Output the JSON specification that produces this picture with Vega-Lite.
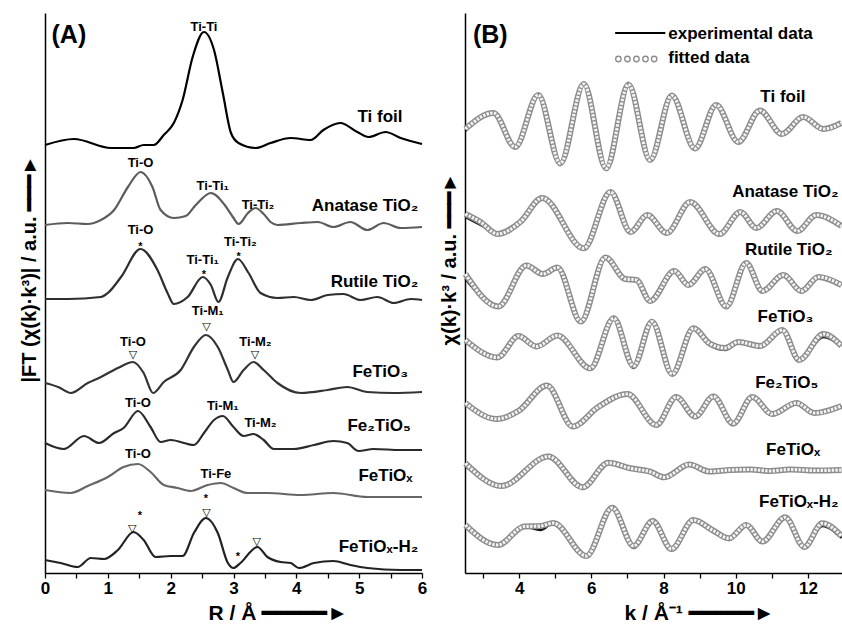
{
"$schema": "https://vega.github.io/schema/vega-lite/v6.json",
"padding": {"left": 19, "top": 13, "right": 0, "bottom": 0},
"background": "white",
"bounds": "flush",
"spacing": 43,
"config": {
  "view": {"stroke": null},
  "text": {"font": "Liberation Sans", "fontWeight": "bold", "color": "black"},
  "axis": {"grid": false, "domainColor": "black", "domainWidth": 1.5, "tickColor": "black", "tickWidth": 1.3, "tickSize": 5,
    "labelFont": "Liberation Sans", "labelFontWeight": "bold", "labelFontSize": 17, "labelColor": "black", "labelPadding": 2, "labelFlush": false,
    "titleFont": "Liberation Sans", "titleFontWeight": "bold", "titleColor": "black"}
},
"datasets": {
"ft": [
{"s":"Ti foil","R":0,"v":428},{"s":"Ti foil","R":0.46,"v":434},{"s":"Ti foil","R":1.05,"v":425},{"s":"Ti foil","R":1.41,"v":425},{"s":"Ti foil","R":1.57,"v":428},{"s":"Ti foil","R":1.73,"v":428},{"s":"Ti foil","R":1.89,"v":438},{"s":"Ti foil","R":2.05,"v":450},{"s":"Ti foil","R":2.19,"v":473},{"s":"Ti foil","R":2.35,"v":516},{"s":"Ti foil","R":2.53,"v":541},{"s":"Ti foil","R":2.69,"v":523},{"s":"Ti foil","R":2.83,"v":480},{"s":"Ti foil","R":2.96,"v":440},{"s":"Ti foil","R":3.08,"v":430},{"s":"Ti foil","R":3.35,"v":425},{"s":"Ti foil","R":3.59,"v":430},{"s":"Ti foil","R":3.91,"v":435},{"s":"Ti foil","R":4.23,"v":433},{"s":"Ti foil","R":4.43,"v":443},{"s":"Ti foil","R":4.7,"v":450},{"s":"Ti foil","R":4.97,"v":441},{"s":"Ti foil","R":5.15,"v":436},{"s":"Ti foil","R":5.42,"v":441},{"s":"Ti foil","R":5.66,"v":435},{"s":"Ti foil","R":6,"v":429},
{"s":"Anatase","R":0,"v":348},{"s":"Anatase","R":0.36,"v":350},{"s":"Anatase","R":0.68,"v":349},{"s":"Anatase","R":0.89,"v":353},{"s":"Anatase","R":1.1,"v":363},{"s":"Anatase","R":1.32,"v":386},{"s":"Anatase","R":1.52,"v":401},{"s":"Anatase","R":1.71,"v":386},{"s":"Anatase","R":1.84,"v":363},{"s":"Anatase","R":2.05,"v":355},{"s":"Anatase","R":2.24,"v":357},{"s":"Anatase","R":2.4,"v":368},{"s":"Anatase","R":2.64,"v":380},{"s":"Anatase","R":2.86,"v":368},{"s":"Anatase","R":2.99,"v":356},{"s":"Anatase","R":3.08,"v":349},{"s":"Anatase","R":3.23,"v":360},{"s":"Anatase","R":3.35,"v":365},{"s":"Anatase","R":3.48,"v":359},{"s":"Anatase","R":3.59,"v":351},{"s":"Anatase","R":3.7,"v":348},{"s":"Anatase","R":4.07,"v":350},{"s":"Anatase","R":4.34,"v":351},{"s":"Anatase","R":4.59,"v":346},{"s":"Anatase","R":4.86,"v":351},{"s":"Anatase","R":5.13,"v":343},{"s":"Anatase","R":5.39,"v":350},{"s":"Anatase","R":5.66,"v":345},{"s":"Anatase","R":6,"v":346},
{"s":"Rutile","R":0,"v":274},{"s":"Rutile","R":0.36,"v":274},{"s":"Rutile","R":0.89,"v":276},{"s":"Rutile","R":1.0,"v":280},{"s":"Rutile","R":1.21,"v":296},{"s":"Rutile","R":1.52,"v":324},{"s":"Rutile","R":1.79,"v":303},{"s":"Rutile","R":1.95,"v":280},{"s":"Rutile","R":2.05,"v":269},{"s":"Rutile","R":2.27,"v":276},{"s":"Rutile","R":2.51,"v":296},{"s":"Rutile","R":2.64,"v":288},{"s":"Rutile","R":2.76,"v":271},{"s":"Rutile","R":2.91,"v":296},{"s":"Rutile","R":3.07,"v":314},{"s":"Rutile","R":3.24,"v":300},{"s":"Rutile","R":3.43,"v":280},{"s":"Rutile","R":3.7,"v":275},{"s":"Rutile","R":3.96,"v":276},{"s":"Rutile","R":4.23,"v":273},{"s":"Rutile","R":4.5,"v":278},{"s":"Rutile","R":4.75,"v":279},{"s":"Rutile","R":5.02,"v":273},{"s":"Rutile","R":5.29,"v":276},{"s":"Rutile","R":5.55,"v":270},{"s":"Rutile","R":5.82,"v":274},{"s":"Rutile","R":6,"v":273},
{"s":"FeTiO3","R":0,"v":190},{"s":"FeTiO3","R":0.21,"v":186},{"s":"FeTiO3","R":0.41,"v":180},{"s":"FeTiO3","R":0.68,"v":190},{"s":"FeTiO3","R":0.89,"v":196},{"s":"FeTiO3","R":1.16,"v":205},{"s":"FeTiO3","R":1.4,"v":211},{"s":"FeTiO3","R":1.57,"v":200},{"s":"FeTiO3","R":1.72,"v":180},{"s":"FeTiO3","R":1.89,"v":191},{"s":"FeTiO3","R":2.16,"v":203},{"s":"FeTiO3","R":2.37,"v":226},{"s":"FeTiO3","R":2.56,"v":238},{"s":"FeTiO3","R":2.75,"v":226},{"s":"FeTiO3","R":2.91,"v":203},{"s":"FeTiO3","R":3.0,"v":191},{"s":"FeTiO3","R":3.16,"v":203},{"s":"FeTiO3","R":3.32,"v":211},{"s":"FeTiO3","R":3.48,"v":203},{"s":"FeTiO3","R":3.7,"v":190},{"s":"FeTiO3","R":4.07,"v":180},{"s":"FeTiO3","R":4.5,"v":183},{"s":"FeTiO3","R":4.81,"v":186},{"s":"FeTiO3","R":5.13,"v":181},{"s":"FeTiO3","R":5.55,"v":180},{"s":"FeTiO3","R":6,"v":181},
{"s":"Fe2TiO5","R":0,"v":130},{"s":"Fe2TiO5","R":0.3,"v":124},{"s":"Fe2TiO5","R":0.62,"v":137},{"s":"Fe2TiO5","R":0.86,"v":130},{"s":"Fe2TiO5","R":1.1,"v":140},{"s":"Fe2TiO5","R":1.25,"v":145},{"s":"Fe2TiO5","R":1.48,"v":162},{"s":"Fe2TiO5","R":1.68,"v":146},{"s":"Fe2TiO5","R":1.84,"v":131},{"s":"Fe2TiO5","R":2.0,"v":133},{"s":"Fe2TiO5","R":2.37,"v":128},{"s":"Fe2TiO5","R":2.53,"v":140},{"s":"Fe2TiO5","R":2.69,"v":153},{"s":"Fe2TiO5","R":2.83,"v":157},{"s":"Fe2TiO5","R":3.0,"v":146},{"s":"Fe2TiO5","R":3.16,"v":137},{"s":"Fe2TiO5","R":3.32,"v":139},{"s":"Fe2TiO5","R":3.48,"v":133},{"s":"Fe2TiO5","R":3.64,"v":124},{"s":"Fe2TiO5","R":3.96,"v":124},{"s":"Fe2TiO5","R":4.28,"v":128},{"s":"Fe2TiO5","R":4.59,"v":132},{"s":"Fe2TiO5","R":4.81,"v":130},{"s":"Fe2TiO5","R":4.99,"v":122},{"s":"Fe2TiO5","R":5.23,"v":124},{"s":"Fe2TiO5","R":5.66,"v":123},{"s":"Fe2TiO5","R":6,"v":123},
{"s":"FeTiOx","R":0,"v":83},{"s":"FeTiOx","R":0.41,"v":80},{"s":"FeTiOx","R":0.68,"v":87},{"s":"FeTiOx","R":1.0,"v":96},{"s":"FeTiOx","R":1.25,"v":106},{"s":"FeTiOx","R":1.48,"v":109},{"s":"FeTiOx","R":1.68,"v":101},{"s":"FeTiOx","R":1.89,"v":88},{"s":"FeTiOx","R":2.11,"v":85},{"s":"FeTiOx","R":2.32,"v":82},{"s":"FeTiOx","R":2.59,"v":88},{"s":"FeTiOx","R":2.8,"v":90},{"s":"FeTiOx","R":3.0,"v":85},{"s":"FeTiOx","R":3.23,"v":80},{"s":"FeTiOx","R":3.54,"v":80},{"s":"FeTiOx","R":4.07,"v":78},{"s":"FeTiOx","R":4.59,"v":80},{"s":"FeTiOx","R":5.13,"v":76},{"s":"FeTiOx","R":6,"v":76},
{"s":"FeTiOx-H2","R":0,"v":13},{"s":"FeTiOx-H2","R":0.25,"v":10},{"s":"FeTiOx-H2","R":0.52,"v":6},{"s":"FeTiOx-H2","R":0.73,"v":15},{"s":"FeTiOx-H2","R":0.94,"v":14},{"s":"FeTiOx-H2","R":1.16,"v":23},{"s":"FeTiOx-H2","R":1.41,"v":41},{"s":"FeTiOx-H2","R":1.57,"v":33},{"s":"FeTiOx-H2","R":1.76,"v":16},{"s":"FeTiOx-H2","R":2.0,"v":17},{"s":"FeTiOx-H2","R":2.19,"v":17},{"s":"FeTiOx-H2","R":2.37,"v":40},{"s":"FeTiOx-H2","R":2.56,"v":55},{"s":"FeTiOx-H2","R":2.75,"v":40},{"s":"FeTiOx-H2","R":2.91,"v":10},{"s":"FeTiOx-H2","R":3.0,"v":5},{"s":"FeTiOx-H2","R":3.11,"v":10},{"s":"FeTiOx-H2","R":3.38,"v":26},{"s":"FeTiOx-H2","R":3.54,"v":16},{"s":"FeTiOx-H2","R":3.75,"v":11},{"s":"FeTiOx-H2","R":3.91,"v":10},{"s":"FeTiOx-H2","R":4.04,"v":5},{"s":"FeTiOx-H2","R":4.28,"v":10},{"s":"FeTiOx-H2","R":4.59,"v":12},{"s":"FeTiOx-H2","R":4.86,"v":8},{"s":"FeTiOx-H2","R":5.13,"v":5},{"s":"FeTiOx-H2","R":5.66,"v":3},{"s":"FeTiOx-H2","R":6,"v":3}
],
"chi": [
{"s":"Ti foil","k":2.51,"fit":444,"exp":442},{"s":"Ti foil","k":3.29,"fit":460,"exp":460},{"s":"Ti foil","k":3.89,"fit":426,"exp":427},{"s":"Ti foil","k":4.53,"fit":478,"exp":478},{"s":"Ti foil","k":5.14,"fit":409.5,"exp":409.5},{"s":"Ti foil","k":5.79,"fit":489,"exp":489},{"s":"Ti foil","k":6.41,"fit":404.7,"exp":404.7},{"s":"Ti foil","k":7.03,"fit":488.5,"exp":488.5},{"s":"Ti foil","k":7.63,"fit":413,"exp":413},{"s":"Ti foil","k":8.23,"fit":477.5,"exp":477.5},{"s":"Ti foil","k":8.87,"fit":424.5,"exp":424.5},{"s":"Ti foil","k":9.46,"fit":468,"exp":468},{"s":"Ti foil","k":10.07,"fit":431,"exp":431},{"s":"Ti foil","k":10.67,"fit":462.5,"exp":461},{"s":"Ti foil","k":11.28,"fit":439,"exp":440},{"s":"Ti foil","k":11.87,"fit":456,"exp":455},{"s":"Ti foil","k":12.43,"fit":444,"exp":445},{"s":"Ti foil","k":12.93,"fit":450,"exp":449},
{"s":"Anatase","k":2.51,"fit":359,"exp":356},{"s":"Anatase","k":2.93,"fit":351,"exp":348},{"s":"Anatase","k":3.4,"fit":339,"exp":340},{"s":"Anatase","k":4.03,"fit":351,"exp":350},{"s":"Anatase","k":4.64,"fit":375,"exp":375},{"s":"Anatase","k":5.79,"fit":324.7,"exp":324.7},{"s":"Anatase","k":6.53,"fit":381,"exp":381},{"s":"Anatase","k":7.09,"fit":341,"exp":341},{"s":"Anatase","k":7.55,"fit":358,"exp":358},{"s":"Anatase","k":8.09,"fit":340,"exp":340},{"s":"Anatase","k":8.74,"fit":371,"exp":371},{"s":"Anatase","k":9.55,"fit":339,"exp":339},{"s":"Anatase","k":10.13,"fit":361,"exp":361},{"s":"Anatase","k":10.57,"fit":345,"exp":345},{"s":"Anatase","k":11.14,"fit":362,"exp":362},{"s":"Anatase","k":11.71,"fit":342,"exp":342},{"s":"Anatase","k":12.23,"fit":358,"exp":358},{"s":"Anatase","k":12.93,"fit":347,"exp":347},
{"s":"Rutile","k":2.51,"fit":299,"exp":294},{"s":"Rutile","k":3.42,"fit":266.5,"exp":267},{"s":"Rutile","k":4.2,"fit":307.5,"exp":307.5},{"s":"Rutile","k":4.66,"fit":299,"exp":299},{"s":"Rutile","k":5.06,"fit":305.5,"exp":305.5},{"s":"Rutile","k":5.71,"fit":251.5,"exp":251.5},{"s":"Rutile","k":6.39,"fit":315.5,"exp":315.5},{"s":"Rutile","k":6.94,"fit":294,"exp":294},{"s":"Rutile","k":7.25,"fit":293,"exp":293},{"s":"Rutile","k":7.63,"fit":272,"exp":272},{"s":"Rutile","k":8.3,"fit":302,"exp":302},{"s":"Rutile","k":8.69,"fit":288,"exp":288},{"s":"Rutile","k":9.16,"fit":304,"exp":304},{"s":"Rutile","k":9.74,"fit":266.5,"exp":266.5},{"s":"Rutile","k":10.29,"fit":310,"exp":310},{"s":"Rutile","k":10.74,"fit":282,"exp":282},{"s":"Rutile","k":11.32,"fit":298,"exp":298},{"s":"Rutile","k":11.82,"fit":282,"exp":282},{"s":"Rutile","k":12.29,"fit":296,"exp":296},{"s":"Rutile","k":12.93,"fit":288,"exp":288},
{"s":"FeTiO3","k":2.51,"fit":233,"exp":231},{"s":"FeTiO3","k":3.4,"fit":215.5,"exp":216},{"s":"FeTiO3","k":3.98,"fit":237,"exp":236},{"s":"FeTiO3","k":4.48,"fit":226.5,"exp":226.5},{"s":"FeTiO3","k":5.06,"fit":237.5,"exp":237.5},{"s":"FeTiO3","k":5.97,"fit":204.7,"exp":204.7},{"s":"FeTiO3","k":6.62,"fit":254.7,"exp":254.7},{"s":"FeTiO3","k":7.17,"fit":207,"exp":205},{"s":"FeTiO3","k":7.68,"fit":251.3,"exp":251.3},{"s":"FeTiO3","k":8.24,"fit":199,"exp":199},{"s":"FeTiO3","k":8.83,"fit":244.7,"exp":244.7},{"s":"FeTiO3","k":9.27,"fit":229.7,"exp":228},{"s":"FeTiO3","k":9.71,"fit":225,"exp":223},{"s":"FeTiO3","k":10.07,"fit":231,"exp":230},{"s":"FeTiO3","k":10.68,"fit":227,"exp":227},{"s":"FeTiO3","k":11.29,"fit":243,"exp":243},{"s":"FeTiO3","k":11.76,"fit":213,"exp":213},{"s":"FeTiO3","k":12.43,"fit":239,"exp":236},{"s":"FeTiO3","k":12.93,"fit":227,"exp":227},
{"s":"Fe2TiO5","k":2.51,"fit":170,"exp":168},{"s":"Fe2TiO5","k":3.37,"fit":154,"exp":155},{"s":"Fe2TiO5","k":3.98,"fit":162,"exp":161},{"s":"Fe2TiO5","k":4.77,"fit":187.5,"exp":187.5},{"s":"Fe2TiO5","k":5.49,"fit":146.5,"exp":146.5},{"s":"Fe2TiO5","k":6.17,"fit":165.5,"exp":165.5},{"s":"Fe2TiO5","k":7.0,"fit":179,"exp":179},{"s":"Fe2TiO5","k":7.8,"fit":148,"exp":148},{"s":"Fe2TiO5","k":8.35,"fit":176,"exp":176},{"s":"Fe2TiO5","k":8.88,"fit":156.5,"exp":156.5},{"s":"Fe2TiO5","k":9.38,"fit":176.5,"exp":176.5},{"s":"Fe2TiO5","k":9.93,"fit":149.5,"exp":148},{"s":"Fe2TiO5","k":10.46,"fit":176,"exp":176},{"s":"Fe2TiO5","k":11.01,"fit":159,"exp":159},{"s":"Fe2TiO5","k":11.68,"fit":170,"exp":170},{"s":"Fe2TiO5","k":12.18,"fit":160,"exp":160},{"s":"Fe2TiO5","k":12.93,"fit":167,"exp":167},
{"s":"FeTiOx","k":2.51,"fit":109.7,"exp":107},{"s":"FeTiOx","k":3.51,"fit":87,"exp":88},{"s":"FeTiOx","k":4.81,"fit":116.5,"exp":116.5},{"s":"FeTiOx","k":5.76,"fit":85.7,"exp":85.7},{"s":"FeTiOx","k":6.47,"fit":110.2,"exp":110.2},{"s":"FeTiOx","k":7.08,"fit":104.7,"exp":104.7},{"s":"FeTiOx","k":7.63,"fit":101.3,"exp":101.3},{"s":"FeTiOx","k":8.02,"fit":95.7,"exp":95.7},{"s":"FeTiOx","k":8.71,"fit":108.5,"exp":108.5},{"s":"FeTiOx","k":9.27,"fit":101.5,"exp":101.5},{"s":"FeTiOx","k":9.85,"fit":103,"exp":103},{"s":"FeTiOx","k":10.4,"fit":103.5,"exp":103.5},{"s":"FeTiOx","k":10.96,"fit":102,"exp":102},{"s":"FeTiOx","k":11.51,"fit":103.5,"exp":103.5},{"s":"FeTiOx","k":12.21,"fit":102.5,"exp":102.5},{"s":"FeTiOx","k":12.93,"fit":103,"exp":103},
{"s":"FeTiOx-H2","k":2.51,"fit":48,"exp":46},{"s":"FeTiOx-H2","k":3.41,"fit":28,"exp":29},{"s":"FeTiOx-H2","k":4.14,"fit":46.5,"exp":46.5},{"s":"FeTiOx-H2","k":4.59,"fit":47,"exp":43},{"s":"FeTiOx-H2","k":4.95,"fit":50,"exp":50},{"s":"FeTiOx-H2","k":5.86,"fit":17,"exp":17},{"s":"FeTiOx-H2","k":6.58,"fit":65.2,"exp":66},{"s":"FeTiOx-H2","k":7.17,"fit":27,"exp":25},{"s":"FeTiOx-H2","k":7.7,"fit":52,"exp":53},{"s":"FeTiOx-H2","k":8.22,"fit":24,"exp":24},{"s":"FeTiOx-H2","k":8.83,"fit":53,"exp":53},{"s":"FeTiOx-H2","k":9.35,"fit":43,"exp":42},{"s":"FeTiOx-H2","k":9.82,"fit":34.7,"exp":33},{"s":"FeTiOx-H2","k":10.29,"fit":48,"exp":48},{"s":"FeTiOx-H2","k":10.74,"fit":31.5,"exp":31.5},{"s":"FeTiOx-H2","k":11.37,"fit":55.7,"exp":55.7},{"s":"FeTiOx-H2","k":11.9,"fit":26,"exp":25},{"s":"FeTiOx-H2","k":12.4,"fit":49.7,"exp":47},{"s":"FeTiOx-H2","k":12.93,"fit":37,"exp":35}
],
"peakA": [
{"R":2.53,"v":546,"t":"Ti-Ti"},{"R":1.52,"v":410,"t":"Ti-O"},{"R":2.67,"v":387,"t":"Ti-Ti₁"},{"R":3.39,"v":368,"t":"Ti-Ti₂"},
{"R":1.52,"v":343,"t":"Ti-O"},{"R":2.51,"v":313,"t":"Ti-Ti₁"},{"R":3.11,"v":331,"t":"Ti-Ti₂"},
{"R":2.59,"v":262,"t":"Ti-M₁"},{"R":1.4,"v":231,"t":"Ti-O"},{"R":3.35,"v":231,"t":"Ti-M₂"},
{"R":1.48,"v":170,"t":"Ti-O"},{"R":2.83,"v":167,"t":"Ti-M₁"},{"R":3.43,"v":150,"t":"Ti-M₂"},
{"R":1.48,"v":119,"t":"Ti-O"},{"R":2.72,"v":99,"t":"Ti-Fe"}
],
"starA": [
{"R":1.52,"v":326,"t":"*"},{"R":2.53,"v":298,"t":"*"},{"R":3.08,"v":316,"t":"*"},{"R":1.51,"v":57,"t":"*"},{"R":2.56,"v":74,"t":"*"},{"R":3.07,"v":16,"t":"*"}
],
"triA": [
{"R":2.57,"v":246,"t":"▽"},{"R":1.4,"v":218,"t":"▽"},{"R":3.34,"v":218,"t":"▽"},{"R":1.39,"v":44,"t":"▽"},{"R":2.57,"v":60,"t":"▽"},{"R":3.37,"v":31,"t":"▽"}
],
"nameA": [
{"R":5.69,"v":456,"t":"Ti foil"},{"R":5.94,"v":367,"t":"Anatase TiO₂"},{"R":5.94,"v":291,"t":"Rutile TiO₂"},{"R":5.78,"v":201,"t":"FeTiO₃"},{"R":5.82,"v":147,"t":"Fe₂TiO₅"},{"R":5.85,"v":97,"t":"FeTiOₓ"},{"R":5.94,"v":26,"t":"FeTiOₓ-H₂"}
],
"nameB": [
{"k":11.93,"v":476,"t":"Ti foil"},{"k":12.85,"v":381,"t":"Anatase TiO₂"},{"k":12.68,"v":323,"t":"Rutile TiO₂"},{"k":12.15,"v":256,"t":"FeTiO₃"},{"k":12.29,"v":190,"t":"Fe₂TiO₅"},{"k":12.34,"v":123,"t":"FeTiOₓ"},{"k":12.85,"v":71,"t":"FeTiOₓ-H₂"}
],
"legLine": [{"k":6.66,"k2":8.05,"v":540}],
"legPts": [{"k":6.75,"v":514},{"k":7.0,"v":514},{"k":7.25,"v":514},{"k":7.5,"v":514},{"k":7.74,"v":514}],
"legText": [{"k":8.13,"v":539,"t":"experimental data"},{"k":8.13,"v":515,"t":"fitted data"}]
},
"hconcat": [
{
 "width": 377, "height": 560,
 "encoding": {
   "x": {"field": "R", "type": "quantitative", "scale": {"domain": [0, 6], "nice": false, "zero": false},
     "axis": {"values": [0,0.5,1,1.5,2,2.5,3,3.5,4,4.5,5,5.5,6], "labelExpr": "datum.value % 1 === 0 ? '' + datum.value : ''",
       "title": "R / Å ━━━━━►", "titleFontSize": 21, "titleX": 163, "titleY": 46, "titleAlign": "left", "titleBaseline": "alphabetic"}},
   "y": {"field": "v", "type": "quantitative", "scale": {"domain": [0, 560], "nice": false},
     "axis": {"ticks": false, "labels": false, "title": "|FT (χ(k)·k³)| / a.u. ━━━►", "titleFontSize": 20, "titleAngle": -90,
       "titleX": -16, "titleY": 369, "titleAlign": "left", "titleBaseline": "middle"}}
 },
 "layer": [
  {"data": {"name": "ft"}, "mark": {"type": "line", "interpolate": "monotone", "strokeWidth": 2.2},
   "encoding": {"color": {"field": "s", "type": "nominal", "legend": null,
     "scale": {"domain": ["Ti foil","Anatase","Rutile","FeTiO3","Fe2TiO5","FeTiOx","FeTiOx-H2"],
               "range": ["#000000","#5c5c5c","#2e2e2e","#333333","#2a2a2a","#666666","#222222"]}}}},
  {"data": {"name": "peakA"}, "mark": {"type": "text", "fontSize": 13, "align": "center", "baseline": "middle"},
   "encoding": {"text": {"field": "t"}}},
  {"data": {"name": "starA"}, "mark": {"type": "text", "fontSize": 11, "align": "center", "baseline": "middle"},
   "encoding": {"text": {"field": "t"}}},
  {"data": {"name": "triA"}, "mark": {"type": "text", "fontSize": 11, "align": "center", "baseline": "middle", "font": "DejaVu Sans", "fontWeight": "normal"},
   "encoding": {"text": {"field": "t"}}},
  {"data": {"name": "nameA"}, "mark": {"type": "text", "fontSize": 17, "align": "right", "baseline": "middle"},
   "encoding": {"text": {"field": "t"}}},
  {"data": {"values": [{"R": 0.38, "v": 538, "t": "(A)"}]}, "mark": {"type": "text", "fontSize": 25, "align": "center", "baseline": "middle"},
   "encoding": {"text": {"field": "t"}}}
 ]
},
{
 "width": 379, "height": 560,
 "encoding": {
   "x": {"field": "k", "type": "quantitative", "scale": {"domain": [2.5, 13], "nice": false, "zero": false},
     "axis": {"values": [3,4,5,6,7,8,9,10,11,12], "labelExpr": "datum.value % 2 === 0 ? '' + datum.value : ''",
       "title": "k / Å⁻¹ ━━━━━►", "titleFontSize": 21, "titleX": 159, "titleY": 46, "titleAlign": "left", "titleBaseline": "alphabetic"}},
   "y": {"type": "quantitative", "scale": {"domain": [0, 560], "nice": false},
     "axis": {"ticks": false, "labels": false, "title": "χ(k)·k³ / a.u. ━━━►", "titleFontSize": 20, "titleAngle": -90,
       "titleX": -16, "titleY": 332, "titleAlign": "left", "titleBaseline": "middle"}}
 },
 "layer": [
  {"data": {"name": "chi"}, "mark": {"type": "line", "interpolate": "monotone", "strokeWidth": 2.4, "color": "#111111"},
   "encoding": {"y": {"field": "exp"}, "detail": {"field": "s"}}},
  {"data": {"name": "chi"}, "mark": {"type": "line", "interpolate": "monotone", "strokeWidth": 6, "color": "#8c8c8c"},
   "encoding": {"y": {"field": "fit"}, "detail": {"field": "s"}}},
  {"data": {"name": "chi"}, "mark": {"type": "line", "interpolate": "monotone", "strokeWidth": 3.2, "color": "#f4f4f4", "strokeDash": [2.4, 1.3]},
   "encoding": {"y": {"field": "fit"}, "detail": {"field": "s"}}},
  {"data": {"name": "nameB"}, "mark": {"type": "text", "fontSize": 17, "align": "right", "baseline": "middle"},
   "encoding": {"y": {"field": "v"}, "text": {"field": "t"}}},
  {"data": {"values": [{"k": 3.2, "v": 538, "t": "(B)"}]}, "mark": {"type": "text", "fontSize": 25, "align": "center", "baseline": "middle"},
   "encoding": {"y": {"field": "v"}, "text": {"field": "t"}}},
  {"data": {"name": "legLine"}, "mark": {"type": "rule", "strokeWidth": 2, "color": "black"},
   "encoding": {"x2": {"field": "k2"}, "y": {"field": "v"}}},
  {"data": {"name": "legPts"}, "mark": {"type": "circle", "size": 30, "fill": "white", "stroke": "#8c8c8c", "strokeWidth": 1.3, "opacity": 1},
   "encoding": {"y": {"field": "v"}}},
  {"data": {"name": "legText"}, "mark": {"type": "text", "fontSize": 17, "align": "left", "baseline": "middle"},
   "encoding": {"y": {"field": "v"}, "text": {"field": "t"}}}
 ]
}
]
}
